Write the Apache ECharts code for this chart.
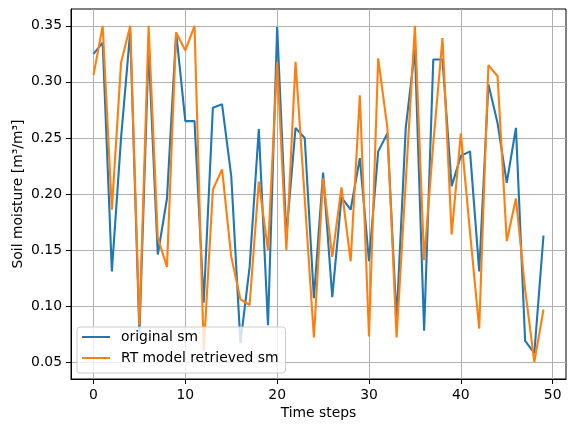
<!DOCTYPE html>
<html>
<head>
<meta charset="UTF-8">
<title>Soil moisture</title>
<script src="https://cdn.jsdelivr.net/npm/echarts@6.0.0/dist/echarts.min.js"></script>
<style>
  html, body { margin: 0; padding: 0; background: #fff; }
  #chart { width: 576px; height: 432px; }
</style>
</head>
<body>
<div id="chart"></div>
<script>
// data
const timeSteps = [0, 1, 2, 3, 4, 5, 6, 7, 8, 9, 10, 11, 12, 13, 14, 15, 16, 17, 18, 19,
  20, 21, 22, 23, 24, 25, 26, 27, 28, 29, 30, 31, 32, 33, 34, 35, 36, 37, 38, 39,
  40, 41, 42, 43, 44, 45, 46, 47, 48, 49];
const originalSm = [0.325, 0.335, 0.131, 0.250, 0.345, 0.075, 0.330, 0.146, 0.196, 0.344,
  0.265, 0.265, 0.103, 0.277, 0.280, 0.216, 0.067, 0.135, 0.258, 0.083,
  0.349, 0.163, 0.259, 0.250, 0.107, 0.219, 0.108, 0.197, 0.186, 0.232,
  0.140, 0.238, 0.254, 0.088, 0.259, 0.329, 0.078, 0.320, 0.320, 0.207,
  0.234, 0.238, 0.131, 0.298, 0.263, 0.210, 0.259, 0.069, 0.058, 0.163];
const retrievedSm = [0.306, 0.350, 0.186, 0.317, 0.350, 0.083, 0.350, 0.161, 0.135, 0.344,
  0.328, 0.350, 0.060, 0.204, 0.222, 0.144, 0.106, 0.101, 0.211, 0.150,
  0.318, 0.150, 0.318, 0.196, 0.072, 0.214, 0.144, 0.206, 0.140, 0.288,
  0.073, 0.321, 0.259, 0.072, 0.211, 0.350, 0.141, 0.245, 0.339, 0.164,
  0.254, 0.166, 0.080, 0.315, 0.305, 0.158, 0.196, 0.115, 0.050, 0.097];
const xTicks = [0, 10, 20, 30, 40, 50];
const yTicks = [0.05, 0.10, 0.15, 0.20, 0.25, 0.30, 0.35];

const font = 'DejaVu Sans';
const fs = 13.9;
const pairs = (ys) => timeSteps.map((t, i) => [t, ys[i]]);

const chart = echarts.init(document.getElementById('chart'));
chart.setOption({
  animation: false,
  textStyle: { fontFamily: font },
  grid: {
    left: 71, right: 10, top: 9, bottom: 53,
    outerBoundsMode: 'none',
    show: true, borderColor: '#000', borderWidth: 1
  },
  legend: {
    orient: 'vertical',
    left: 77, top: 327,
    icon: 'rect',
    itemWidth: 28, itemHeight: 2,
    itemGap: 7,
    padding: [3, 7, 8, 5],
    backgroundColor: 'rgba(255,255,255,0.8)',
    borderColor: '#cccccc', borderWidth: 1, borderRadius: 3,
    textStyle: { fontFamily: font, fontSize: fs, color: '#000', lineHeight: 14, padding: [0, 0, 0, 6] },
    data: ['original sm', 'RT model retrieved sm']
  },
  xAxis: {
    type: 'value',
    min: -2.45, max: 51.45,
    name: 'Time steps', nameLocation: 'middle', nameGap: 27,
    nameMoveOverlap: false,
    nameTextStyle: { fontFamily: font, fontSize: fs, color: '#000' },
    axisLine: { show: true, onZero: false, lineStyle: { color: '#000', width: 1 } },
    axisTick: { show: true, length: 5, customValues: xTicks, lineStyle: { color: '#000' } },
    axisLabel: { customValues: xTicks, margin: 9, fontFamily: font, fontSize: fs, color: '#000' },
    splitLine: { show: true, lineStyle: { color: '#b0b0b0', width: 1 } }
  },
  yAxis: {
    type: 'value',
    min: 0.035, max: 0.365,
    name: 'Soil moisture [m³/m³]', nameLocation: 'middle', nameGap: 46,
    nameMoveOverlap: false,
    nameTextStyle: { fontFamily: font, fontSize: fs, color: '#000' },
    axisLine: { show: true, onZero: false, lineStyle: { color: '#000', width: 1 } },
    axisTick: { show: true, length: 5, customValues: yTicks, lineStyle: { color: '#000' } },
    axisLabel: {
      customValues: yTicks, margin: 9, fontFamily: font, fontSize: fs, color: '#000',
      formatter: (v) => v.toFixed(2)
    },
    splitLine: { show: true, lineStyle: { color: '#b0b0b0', width: 1 } }
  },
  series: [
    {
      name: 'original sm', type: 'line', data: pairs(originalSm),
      showSymbol: false, color: '#1f77b4',
      lineStyle: { width: 2.1, color: '#1f77b4' }
    },
    {
      name: 'RT model retrieved sm', type: 'line', data: pairs(retrievedSm),
      showSymbol: false, color: '#ff7f0e',
      lineStyle: { width: 2.1, color: '#ff7f0e' }
    }
  ]
});
</script>
</body>
</html>
